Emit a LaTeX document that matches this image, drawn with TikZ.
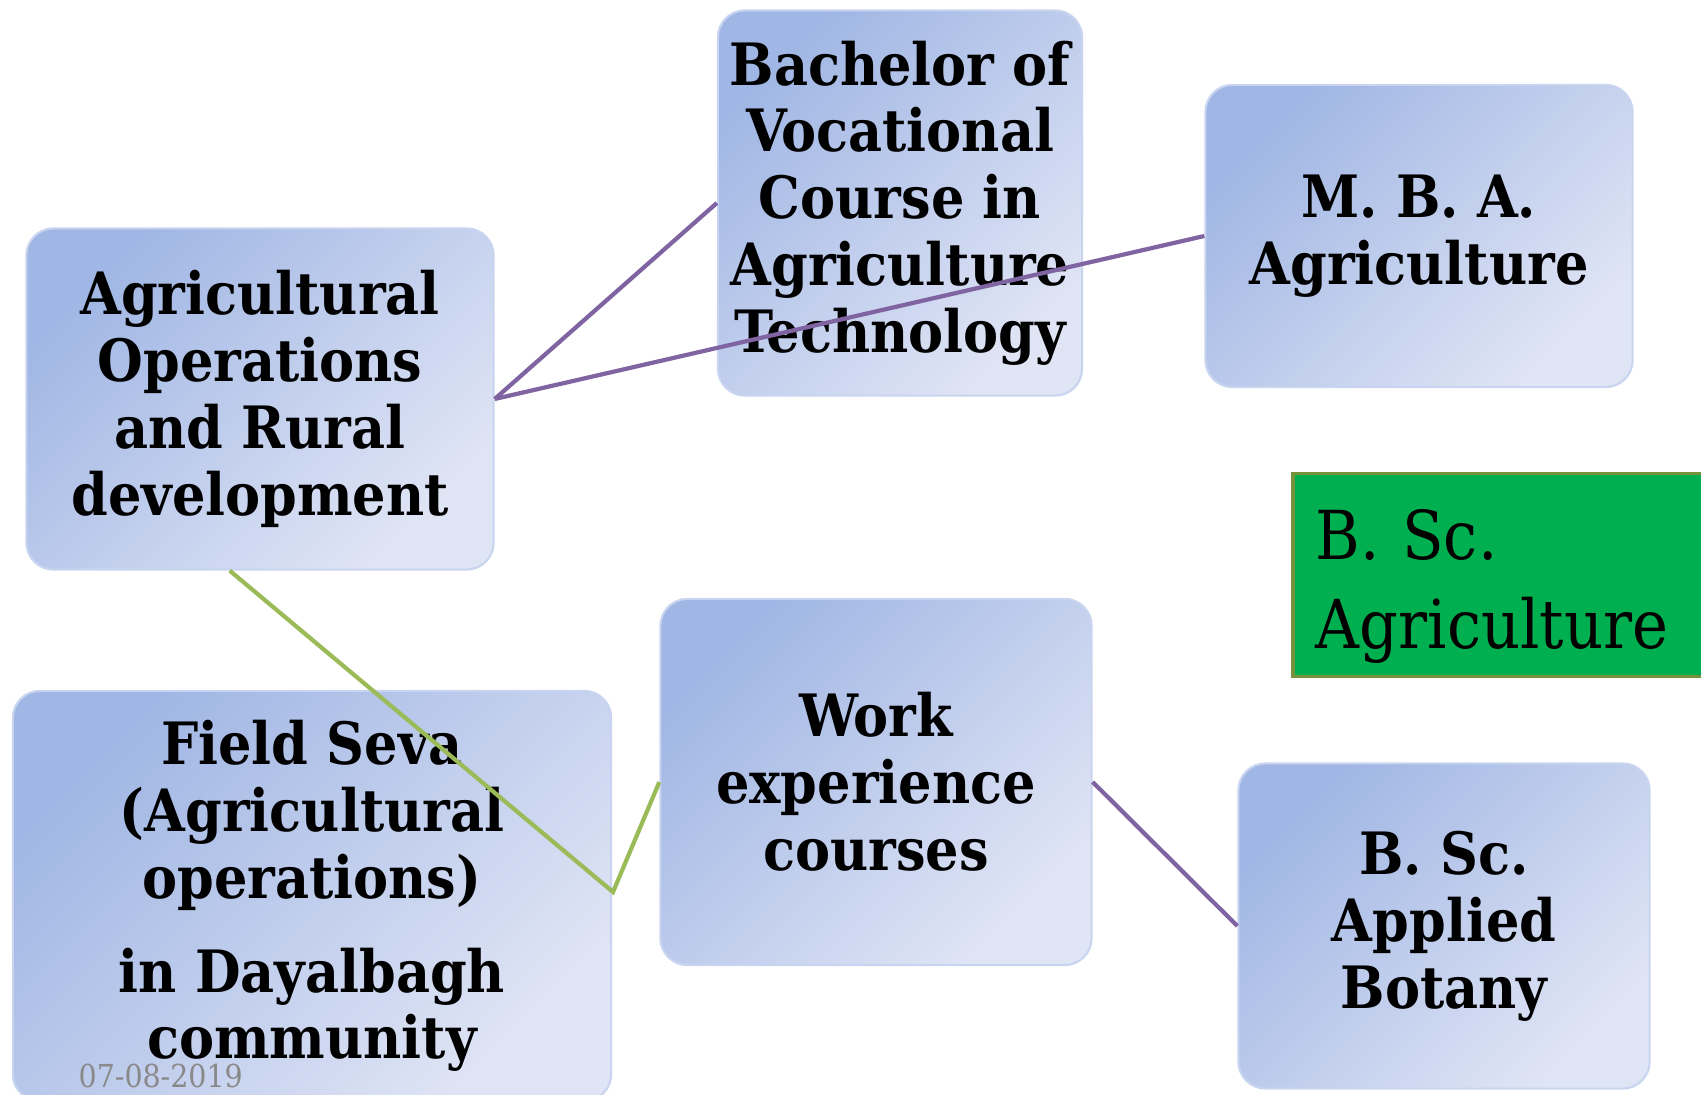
\documentclass[tikz,border=0pt]{standalone}
\usepackage{fontspec}
\setmainfont{DejaVu Serif Condensed}
\usepackage{xcolor}
\usepackage{tikz}
\definecolor{boxdark}{RGB}{160, 182, 228}
\definecolor{boxlight}{RGB}{224, 229, 245}
\definecolor{boxedge}{RGB}{200, 212, 240}
\definecolor{linkpurple}{RGB}{128, 100, 162}
\definecolor{linkgreen}{RGB}{155, 187, 89}
\definecolor{agrigreen}{RGB}{0, 176, 80}
\definecolor{agriolive}{RGB}{118, 146, 60}
\definecolor{dategray}{RGB}{137, 137, 137}

\begin{document}
\begin{tikzpicture}[x=0.01cm, y=-0.01cm,
    bluebox/.style={draw=boxedge, line width=0.6pt, rounded corners=2.7mm,
        top color=boxdark, bottom color=boxlight, shading angle=45,
        align=center, inner sep=0pt,
        font=\fontsize{16.6}{19}\selectfont\bfseries},
    purplelink/.style={linkpurple, line width=1.2pt},
    greenlink/.style={linkgreen, line width=1.2pt}]
    \clip (0,0) rectangle (1701,1095);
    \fill[white] (0,0) rectangle (1701,1095);

    \node[bluebox, minimum width=4.67cm, minimum height=3.41cm] (agriops) at (260,399) {Agricultural\\Operations\\and Rural\\development};
    \node[bluebox, minimum width=3.64cm, minimum height=3.85cm] (bvoc) at (900,203) {Bachelor of\\Vocational\\Course in\\Agriculture\\Technology};
    \node[bluebox, minimum width=4.27cm, minimum height=3.02cm] (mba) at (1419,236) {M. B. A.\\Agriculture};
    \node[bluebox, minimum width=5.98cm, minimum height=4.10cm] (fieldseva) at (312,896) {Field Seva\\(Agricultural\\operations)\\[2.7mm]in Dayalbagh\\community};
    \node[bluebox, minimum width=4.31cm, minimum height=3.66cm] (workexp) at (876,782) {Work\\experience\\courses};
    \node[bluebox, minimum width=4.11cm, minimum height=3.25cm] (botany) at (1444,926) {B. Sc.\\Applied\\Botany};

    \node[draw=agriolive, line width=1.1pt, fill=agrigreen, anchor=west,
        minimum width=4.4cm, minimum height=2.03cm, inner xsep=0.23cm,
        text width=3.94cm, align=left,
        font=\fontsize{19.2}{25.3}\selectfont] (bscagri) at (1291,575) {\rule{0pt}{21pt}B. Sc.\\Agriculture};

    \node[anchor=north west, inner sep=0pt, text=dategray,
        font=\fontsize{9}{10}\selectfont] (date) at (78,1063) {07-08-2019};

    \coordinate (kink) at (613,892);

    \draw[purplelink] (agriops.east) -- (bvoc.west);
    \draw[purplelink] (agriops.east) -- (mba.west);
    \draw[greenlink] (agriops.-100) -- (kink) -- (workexp.west);
    \draw[purplelink] (workexp.east) -- (botany.west);
\end{tikzpicture}
\end{document}
